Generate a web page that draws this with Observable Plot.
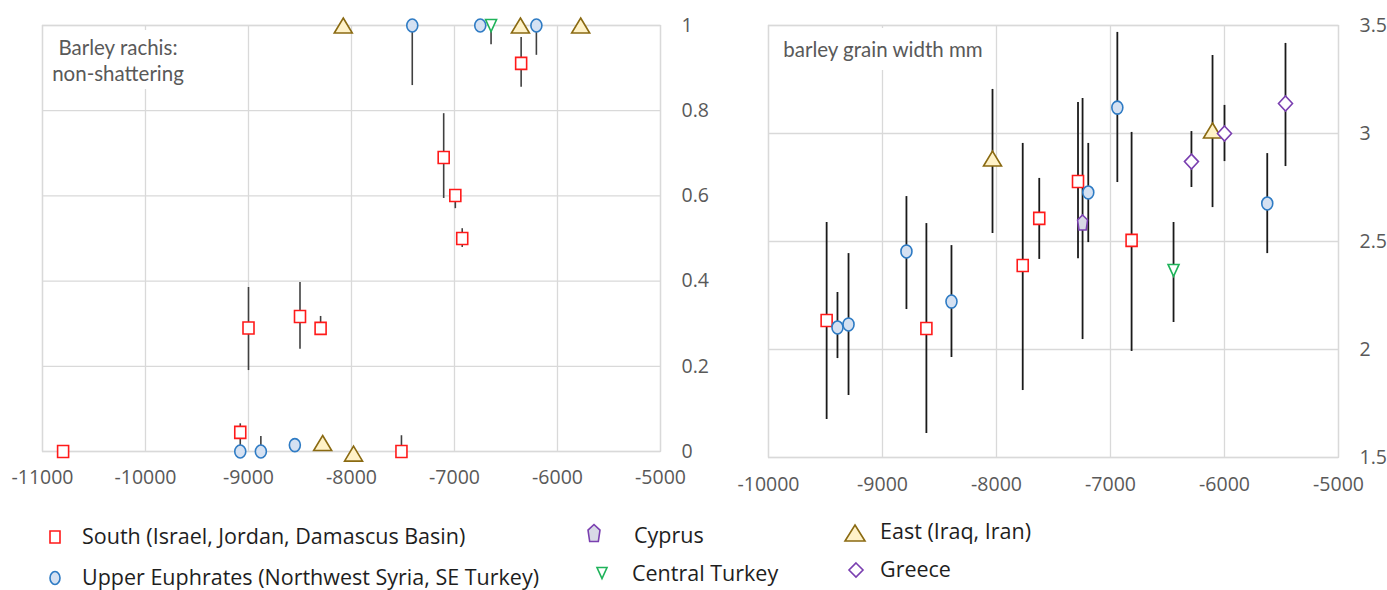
<!DOCTYPE html>
<html>
<head>
<meta charset="utf-8">
<script src="https://cdn.jsdelivr.net/npm/d3@7"></script>
<script src="https://cdn.jsdelivr.net/npm/@observablehq/plot@0.6"></script>
<style>
  html, body { margin: 0; padding: 0; background: #fff; width: 1387px; height: 590px; overflow: hidden; }
  #root { position: relative; width: 1387px; height: 590px; }
  .fig { position: absolute; top: 0; }
  .title { position: absolute; background: #fff; color: #595959; font-family: Lato, "Open Sans", sans-serif; font-size: 20.5px; text-align: center; }
  .lg { position: absolute; font-family: "Open Sans", sans-serif; font-size: 21.5px; color: #1e1e1e; white-space: nowrap; line-height: 1; }
  .lgi { position: absolute; overflow: visible; }
</style>
</head>
<body>
<div id="root"></div>
<script>
// ---------- data ----------
const groups = ["South", "Upper Euphrates", "Cyprus", "Central Turkey", "East", "Greece"];
const legendLabels = [
  "South (Israel, Jordan, Damascus Basin)",
  "Upper Euphrates (Northwest Syria, SE Turkey)",
  "Cyprus",
  "Central Turkey",
  "East (Iraq, Iran)",
  "Greece"
];

// Chart 1: barley rachis, non-shattering proportion
const rachisGroup = ["South","South","South","South","South","South","South","South","South","South",
  "Upper Euphrates","Upper Euphrates","Upper Euphrates","Upper Euphrates","Upper Euphrates","Upper Euphrates",
  "Central Turkey",
  "East","East","East","East","East"];
const rachisYear = [-10800,-9080,-9000,-8500,-8300,-7515,-7105,-6992,-6925,-6353,
  -9080,-8880,-8550,-7410,-6750,-6205,
  -6645,
  -8080,-6360,-5775,-8280,-7980];
const rachisValue = [0,0.045,0.29,0.317,0.289,0,0.69,0.601,0.5,0.911,
  0,0,0.015,1,1,1,
  1,
  1,1,1,0.02,-0.005];
const rachisLow = [null,0.01,0.19,0.24,0.289,0,0.594,0.57,0.479,0.855,
  null,0,null,0.859,null,0.93,
  0.955,
  null,null,null,0.0,null];
const rachisHigh = [null,0.065,0.385,0.397,0.317,0.037,0.793,0.601,0.523,0.972,
  null,0.035,null,1,null,1,
  1,
  null,null,null,0.02,null];
const rachisXTicks = [-11000,-10000,-9000,-8000,-7000,-6000,-5000];
const rachisYTicks = [0,0.2,0.4,0.6,0.8,1];

// Chart 2: barley grain width (mm)
const widthGroup = ["South","South","South","South","South","South",
  "Upper Euphrates","Upper Euphrates","Upper Euphrates","Upper Euphrates","Upper Euphrates","Upper Euphrates","Upper Euphrates",
  "Cyprus","Central Turkey","East","East","Greece","Greece","Greece"];
const widthYear = [-9490,-8615,-7770,-7625,-7285,-6815,
  -9395,-9298,-8790,-8395,-7195,-6940,-5625,
  -7245,-6447,-8035,-6105,-6290,-6000,-5465];
const widthValue = [2.134,2.097,2.389,2.607,2.778,2.505,
  2.102,2.116,2.454,2.222,2.727,3.12,2.676,
  2.588,2.366,2.884,3.014,2.87,3.0,3.139];
const widthLow = [1.676,1.611,1.81,2.417,2.42,1.991,
  1.958,1.787,2.185,1.963,2.495,2.773,2.444,
  2.046,2.125,2.537,2.657,2.75,2.87,2.847];
const widthHigh = [2.588,2.583,2.954,2.792,3.144,3.005,
  2.264,2.444,2.708,2.481,2.954,3.468,2.907,
  3.162,2.588,3.204,3.361,3.009,3.13,3.417];
const widthXTicks = [-10000,-9000,-8000,-7000,-6000,-5000];
const widthYTicks = [1.5,2,2.5,3,3.5];

// ---------- marker shapes (Excel-like) ----------
function ellipse(rx, ry) {
  const k = 0.5523;
  return { draw(c) {
    c.moveTo(0, -ry);
    c.bezierCurveTo(k*rx, -ry, rx, -k*ry, rx, 0);
    c.bezierCurveTo(rx, k*ry, k*rx, ry, 0, ry);
    c.bezierCurveTo(-k*rx, ry, -rx, k*ry, -rx, 0);
    c.bezierCurveTo(-rx, -k*ry, -k*rx, -ry, 0, -ry);
    c.closePath();
  }};
}
function poly(pts) {
  return { draw(c) {
    c.moveTo(pts[0][0], pts[0][1]);
    for (let i = 1; i < pts.length; i++) c.lineTo(pts[i][0], pts[i][1]);
    c.closePath();
  }};
}
const rect = (w, h) => poly([[-w/2,-h/2],[w/2,-h/2],[w/2,h/2],[-w/2,h/2]]);
const triUp = (w, h) => poly([[0,-h/2],[w/2,h/2],[-w/2,h/2]]);
const triDown = (w, h) => poly([[-w/2,-h/2],[w/2,-h/2],[0,h/2]]);
const diamond = (w, h) => poly([[0,-h/2],[w/2,0],[0,h/2],[-w/2,0]]);
const pentagon = (w, h) => poly([[0,-h/2],[w/2,-h/6],[w*0.36,h/2],[-w*0.36,h/2],[-w/2,-h/6]]);

const STYLE = {
  "South":           { symbol: rect(11, 12),     fill: "#ffffff", stroke: "#ff1a1a", lsym: rect(10, 12) },
  "Upper Euphrates": { symbol: ellipse(5.5, 6.5), fill: "#d5e1f2", stroke: "#2e7bc4", lsym: ellipse(5, 6.5) },
  "Cyprus":          { symbol: pentagon(10, 15), fill: "#d8d9e6", stroke: "#7a3fb0", lsym: pentagon(12, 17) },
  "Central Turkey":  { symbol: triDown(11, 12),  fill: "#ffffff", stroke: "#1fb35a", lsym: triDown(10, 11) },
  "East":            { symbol: triUp(18, 15),    fill: "#fff2c8", stroke: "#8a6a12", lsym: triUp(20, 16) },
  "Greece":          { symbol: diamond(14, 15),  fill: "#ffffff", stroke: "#7a3fb0", lsym: diamond(14, 14) }
};

function buildTable(g, x, v, lo, hi) {
  return g.map((d, i) => ({ group: d, year: x[i], value: v[i], lo: lo[i], hi: hi[i] }));
}

function chart(o) {
  const marks = [
    Plot.gridX(o.xTicks, { stroke: "#d9d9d9", strokeOpacity: 1, strokeWidth: 1.3 }),
    Plot.gridY(o.yTicks, { stroke: "#d9d9d9", strokeOpacity: 1, strokeWidth: 1.3 }),
    Plot.frame({ stroke: "#d9d9d9", strokeWidth: 1.3 }),
    Plot.axisX(o.xTicks, { tickSize: 0, tickPadding: o.xPad, tickFormat: d => String(d), label: null }),
    Plot.axisY(o.yTicks, { anchor: "right", tickSize: 0, tickPadding: o.yPad, textAnchor: "start", tickFormat: d => String(d), label: null }),
    Plot.ruleX(o.table.filter(d => d.lo != null), { x: "year", y1: "lo", y2: "hi", stroke: o.ruleColor, strokeWidth: o.ruleWidth })
  ];
  for (const g of groups) {
    const rows = o.table.filter(d => d.group === g);
    if (!rows.length) continue;
    const s = STYLE[g];
    marks.push(Plot.dot(rows, { x: "year", y: "value", symbol: s.symbol, fill: s.fill, stroke: s.stroke, strokeWidth: 1.6 }));
  }
  return Plot.plot({
    width: o.width, height: o.height,
    marginLeft: o.ml, marginRight: o.mr, marginTop: o.mt, marginBottom: o.mb,
    x: { domain: o.xDomain, axis: null, label: null },
    y: { domain: o.yDomain, axis: null, label: null },
    style: { fontFamily: "'Open Sans', sans-serif", fontSize: "19.5px", color: "#595959", background: "transparent", overflow: "visible" },
    marks
  });
}

const root = document.getElementById("root");

const c1 = chart({
  table: buildTable(rachisGroup, rachisYear, rachisValue, rachisLow, rachisHigh),
  xDomain: [-11000, -5000], yDomain: [0, 1], xTicks: rachisXTicks, yTicks: rachisYTicks,
  width: 700, height: 500, ml: 42, mr: 40, mt: 25, mb: 49, xPad: 19, yPad: 21,
  ruleColor: "#404040", ruleWidth: 1.6
});
c1.classList.add("fig"); c1.style.left = "0px";
root.appendChild(c1);

const c2 = chart({
  table: buildTable(widthGroup, widthYear, widthValue, widthLow, widthHigh),
  xDomain: [-10000, -5000], yDomain: [1.5, 3.5], xTicks: widthXTicks, yTicks: widthYTicks,
  width: 687, height: 500, ml: 68, mr: 49, mt: 25, mb: 43, xPad: 20, yPad: 21,
  ruleColor: "#1a1a1a", ruleWidth: 1.8
});
c2.classList.add("fig"); c2.style.left = "700px";
root.appendChild(c2);

// titles inside plots
function addTitle(html, left, top, w, h, lh, pt) {
  const d = document.createElement("div");
  d.className = "title";
  d.style.left = left + "px"; d.style.top = top + "px";
  d.style.width = w + "px"; d.style.height = h + "px";
  d.style.lineHeight = lh + "px"; d.style.paddingTop = pt + "px";
  d.style.boxSizing = "border-box";
  d.innerHTML = html;
  root.appendChild(d);
}
addTitle("Barley rachis:<br>non-shattering", 48, 30, 140, 59, 26, 4);
addTitle("barley grain width mm", 774, 28, 218, 42, 26, 8);

// legend
const legendPos = [
  { ix: 55, iy: 537, tx: 82, ty: 537 },
  { ix: 55, iy: 578, tx: 82, ty: 578 },
  { ix: 594, iy: 533, tx: 634, ty: 536 },
  { ix: 602, iy: 573, tx: 632, ty: 574 },
  { ix: 855, iy: 533, tx: 880, ty: 532 },
  { ix: 856, iy: 570, tx: 880, ty: 570 }
];
groups.forEach((g, i) => {
  const s = STYLE[g], p = legendPos[i];
  const path = d3.path(); s.lsym.draw(path, 0);
  const svg = d3.create("svg").attr("class", "lgi").attr("width", 30).attr("height", 30)
    .attr("viewBox", "-15 -15 30 30")
    .style("left", (p.ix - 15) + "px").style("top", (p.iy - 15) + "px");
  svg.append("path").attr("d", path.toString()).attr("fill", s.fill).attr("stroke", s.stroke).attr("stroke-width", 1.6);
  root.appendChild(svg.node());
  const t = document.createElement("div");
  t.className = "lg";
  t.textContent = legendLabels[i];
  t.style.left = p.tx + "px";
  t.style.top = (p.ty - 12) + "px";
  root.appendChild(t);
});
</script>
</body>
</html>
